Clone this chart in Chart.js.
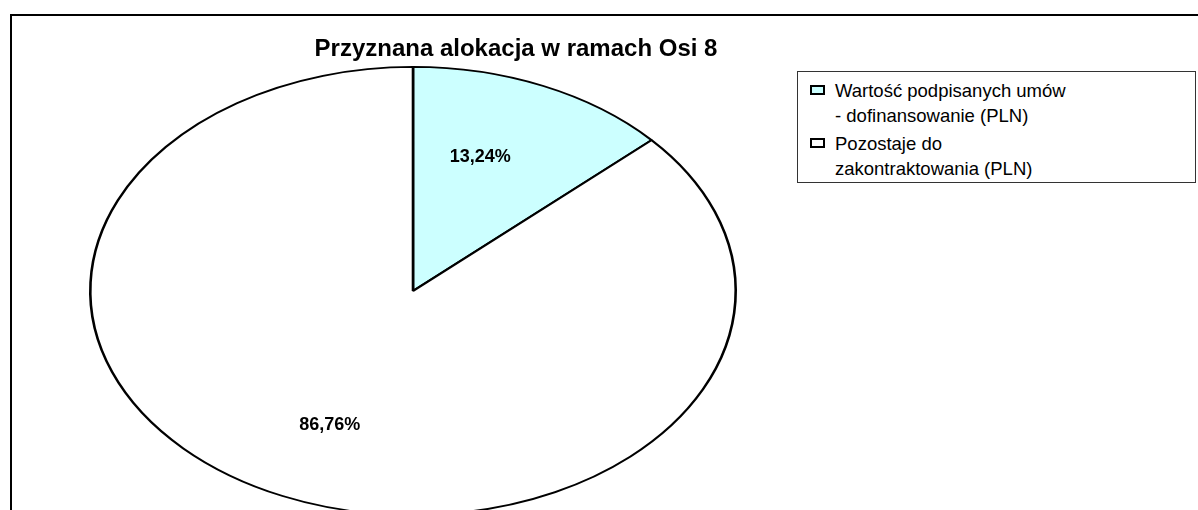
<!DOCTYPE html>
<html>
<head>
<meta charset="utf-8">
<script src="https://cdn.jsdelivr.net/npm/chart.js@4.4.0/dist/chart.umd.min.js"></script>
<style>
  html, body { margin: 0; padding: 0; background: #fff; overflow: hidden; width: 1198px; height: 510px; }
  #wrap { position: relative; width: 1198px; height: 510px; overflow: hidden; font-family: "Liberation Sans", Arial, sans-serif; }
  #frame { position: absolute; left: 10px; top: 14px; width: 1300px; height: 600px; border: 2px solid #000; box-sizing: border-box; }
  #chart { position: absolute; left: 0; top: 0; }
  #title { position: absolute; left: 266px; width: 500px; top: 34px; text-align: center; font-weight: bold; font-size: 24px; line-height: 28px; color: #000; }
  #legend { position: absolute; left: 797px; top: 71px; width: 399px; height: 112px; border: 1px solid #333; box-sizing: border-box; background: #fff; }
  .item { position: absolute; left: 37px; font-size: 18.5px; line-height: 25px; color: #000; white-space: nowrap; }
  .sw { position: absolute; left: -25px; top: 7px; width: 11px; height: 6px; border: 2px solid #000; }
</style>
</head>
<body>
<div id="wrap">
  <div id="frame"></div>
  <canvas id="chart" width="1198" height="540"></canvas>
  <div id="title"></div>
  <div id="legend"></div>
</div>
<script>
var titulo = 'Przyznana alokacja w ramach Osi 8';
var etiquetas = [['Wartość podpisanych umów', '- dofinansowanie (PLN)'], ['Pozostaje do', 'zakontraktowania (PLN)']];
var valores = [13.24, 86.76];
var textos = ['13,24%', '86,76%'];
var colores = ['#ccffff', '#ffffff'];

document.getElementById('title').textContent = titulo;

// leyenda en html
var leyenda = document.getElementById('legend');
etiquetas.forEach(function(lineas, i){
    var it = document.createElement('div');
    it.className = 'item';
    it.style.top = (6 + i * 53) + 'px';
    it.innerHTML = '<span class="sw" style="background:' + colores[i] + '"></span>' + lineas.join('<br>');
    leyenda.appendChild(it);
});

var sx = 1.44; // estirar el circulo en elipse

var elipse = {
    id: 'elipse',
    beforeDatasetsDraw: function(chart){
        var a = chart.chartArea, ctx = chart.ctx;
        var cx = (a.left + a.right) / 2, cy = (a.top + a.bottom) / 2;
        ctx.save();
        ctx.translate(cx, cy);
        ctx.scale(sx, 1);
        ctx.translate(-cx, -cy);
    },
    afterDatasetsDraw: function(chart){
        var ctx = chart.ctx;
        ctx.restore();
        var meta = chart.getDatasetMeta(0);
        ctx.save();
        ctx.font = 'bold 18px "Liberation Sans", Arial, sans-serif';
        ctx.fillStyle = '#000';
        ctx.textAlign = 'center';
        ctx.textBaseline = 'middle';
        meta.data.forEach(function(arc, i){
            var p = arc.getProps(['x', 'y', 'startAngle', 'endAngle', 'outerRadius'], true);
            var m = (p.startAngle + p.endAngle) / 2;
            var r = p.outerRadius * 0.655;
            ctx.fillText(textos[i], p.x - 8 + Math.cos(m) * r * 1.27, p.y + Math.sin(m) * r);
        });
        ctx.restore();
    }
};

new Chart(document.getElementById('chart'), {
    type: 'pie',
    data: {
        labels: etiquetas.map(function(l){ return l.join(' '); }),
        datasets: [{
            data: valores,
            backgroundColor: colores,
            borderColor: '#000',
            borderWidth: 1.8,
            borderAlign: 'center'
        }]
    },
    options: {
        responsive: false,
        animation: false,
        layout: { padding: { left: 188, right: 560, top: 66, bottom: 24 } },
        plugins: {
            legend: { display: false },
            tooltip: { enabled: false },
            title: { display: false }
        }
    },
    plugins: [elipse]
});
</script>
</body>
</html>
